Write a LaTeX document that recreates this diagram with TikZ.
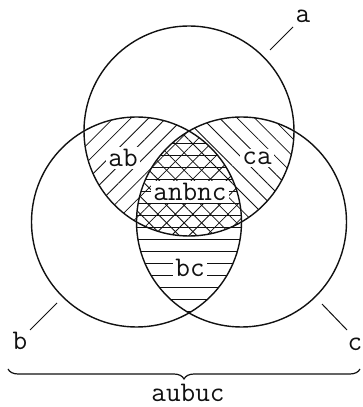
\documentclass[tikz,border=0pt]{standalone}
\usetikzlibrary{patterns.meta,decorations.pathreplacing}
\definecolor{cInk}{HTML}{111111}
\tikzset{
  every picture/.style={line width=0.65pt},
  setc/.style={draw=cInk, line width=0.7pt},
  lbl/.style={font=\fontsize{14.2pt}{16pt}\ttfamily, text=cInk, inner sep=1pt},
  rlbl/.style={lbl, fill=white, inner sep=1.2pt},
  lead/.style={draw=cInk, line width=0.5pt},
  hatchAB/.style={pattern={Lines[angle=45,distance=6.2pt,line width=0.4pt]}, pattern color=cInk},
  hatchCA/.style={pattern={Lines[angle=-45,distance=6.2pt,line width=0.4pt]}, pattern color=cInk},
  hatchBC/.style={pattern={Lines[angle=0,distance=6pt,line width=0.4pt]}, pattern color=cInk},
}

\begin{document}
\begin{tikzpicture}[x=0.5pt,y=0.5pt]
\useasboundingbox (0,0) rectangle (363,407);

% ------------------------------------------------------------ centres
\coordinate (A) at (189,276);
\coordinate (B) at (136.5,185);
\coordinate (C) at (241.5,185);

% ------------------------------------------------------------ pairwise hatching
\begin{scope}
  \clip (A) circle[radius=105];
  \fill[hatchAB] (B) circle[radius=105];
\end{scope}
\begin{scope}
  \clip (C) circle[radius=105];
  \fill[hatchCA] (A) circle[radius=105];
\end{scope}
\begin{scope}
  \clip (B) circle[radius=105];
  \fill[hatchBC] (C) circle[radius=105];
\end{scope}

% ------------------------------------------------------------ the three sets
\draw[setc] (A) circle[radius=105];
\draw[setc] (B) circle[radius=105];
\draw[setc] (C) circle[radius=105];

% ------------------------------------------------------------ region labels
\node[rlbl] (ab)  at (123,249) {ab};
\node[rlbl] (ca)  at (257,249) {ca};
\node[rlbl] (abc) at (190,215) {anbnc};
\node[rlbl] (bc)  at (190,139) {bc};

% ------------------------------------------------------------ set names
\node[lbl] (na) at (303,391) {a};
\node[lbl] (nb) at (20,66)   {b};
\node[lbl] (nc) at (355,63)  {c};
\coordinate (la) at (270,357);
\coordinate (lb) at (57,104);
\coordinate (lc) at (322,103);
\draw[lead] (la) -- (293,380);
\draw[lead] (lb) -- (30,77);
\draw[lead] (lc) -- (347,77);

% ------------------------------------------------------------ union
\coordinate (ul) at (8,38);
\coordinate (ur) at (360,38);
\draw[decorate, decoration={brace, amplitude=5pt}, draw=cInk, line width=0.6pt]
      (ur) -- (ul);
\node[lbl] (uni) at (188,14) {aubuc};

\end{tikzpicture}
\end{document}
